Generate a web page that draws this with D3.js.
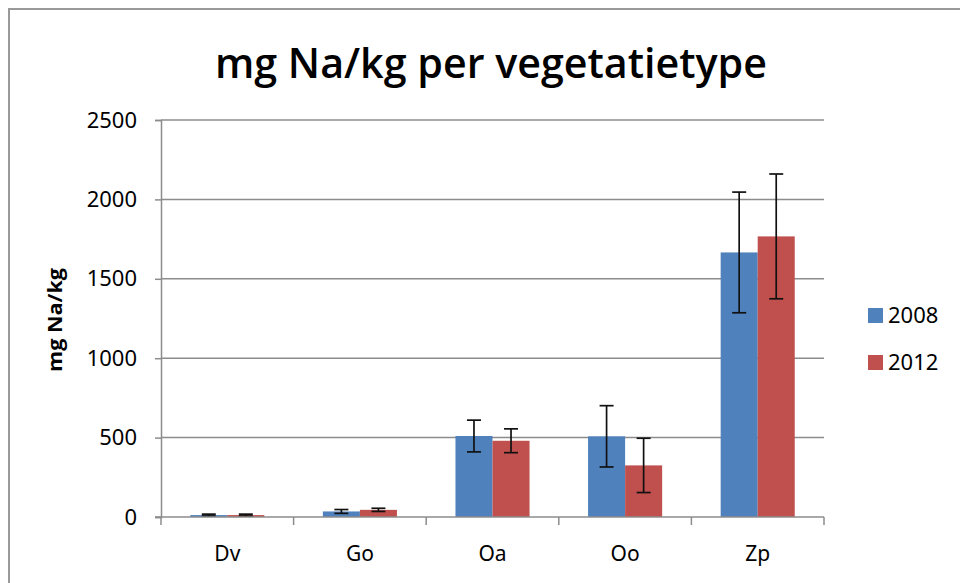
<!DOCTYPE html>
<html lang="nl">
<head>
<meta charset="UTF-8">
<title>mg Na/kg per vegetatietype</title>
<script src="https://cdnjs.cloudflare.com/ajax/libs/d3/7.8.5/d3.min.js"></script>
<style>
    body { margin: 0; background: #fff; }
    .tick text, .cat-label, .legend-label { font-family: "Noto Sans", sans-serif; fill: #000; }
    .grid line { stroke: #8c8c8c; stroke-width: 1.5; }
    .err { stroke: #111; stroke-width: 1.7; }
</style>
</head>
<body>
<div id="chart"></div>
<script>
    // data
    const categories = ["Dv", "Go", "Oa", "Oo", "Zp"];
    const series = ["2008", "2012"];
    const values2008 = [12, 35, 510, 508, 1666];
    const values2012 = [12, 45, 480, 325, 1767];
    const errors2008 = [6, 12, 100, 193, 380];
    const errors2012 = [6, 10, 75, 171, 393];
    const yTicks = [0, 500, 1000, 1500, 2000, 2500];
    const colors = ["#4f81bd", "#c0504d"];

    const W = 960, H = 583;
    const plot = {left: 161, right: 824, top: 120, bottom: 517};

    const svg = d3.select("#chart").append("svg")
        .attr("width", W)
        .attr("height", H);

    // chart border (top and left edges visible)
    svg.append("path")
        .attr("d", `M9,${H} V9 H${W}`)
        .attr("fill", "none")
        .attr("stroke", "#9a9a9a")
        .attr("stroke-width", 2);

    const x0 = d3.scaleBand()
        .domain(categories)
        .range([plot.left, plot.right])
        .padding(0);

    const x1 = d3.scaleBand()
        .domain(series)
        .range([0, x0.bandwidth()])
        .paddingInner(0)
        .paddingOuter(0.79);

    const y = d3.scaleLinear()
        .domain([0, 2500])
        .range([plot.bottom, plot.top]);

    // gridlines
    svg.append("g")
        .attr("class", "grid")
        .selectAll("line")
        .data(yTicks.filter(d => d > 0))
        .join("line")
        .attr("x1", plot.left)
        .attr("x2", plot.right)
        .attr("y1", d => y(d))
        .attr("y2", d => y(d));

    // y axis
    const yAxis = svg.append("g")
        .attr("transform", `translate(${plot.left},0)`)
        .call(d3.axisLeft(y).tickValues(yTicks).tickFormat(d3.format("d")).tickSize(6).tickPadding(18));
    yAxis.select(".domain").attr("stroke", "#8c8c8c").attr("stroke-width", 1.5);
    yAxis.selectAll(".tick line").attr("stroke", "#8c8c8c").attr("stroke-width", 1.5);
    yAxis.selectAll(".tick text").attr("font-size", 22).attr("fill", "#000");

    // bars
    const rows = categories.map((c, i) => ({
        cat: c,
        items: [
            {s: series[0], v: values2008[i], e: errors2008[i]},
            {s: series[1], v: values2012[i], e: errors2012[i]}
        ]
    }));

    const groups = svg.selectAll(".cat")
        .data(rows)
        .join("g")
        .attr("class", "cat")
        .attr("transform", d => `translate(${x0(d.cat)},0)`);

    groups.selectAll("rect")
        .data(d => d.items)
        .join("rect")
        .attr("x", d => x1(d.s))
        .attr("width", x1.bandwidth())
        .attr("y", d => y(d.v))
        .attr("height", d => y(0) - y(d.v))
        .attr("fill", (d, i) => colors[i]);

    // x axis line and boundary ticks
    svg.append("line")
        .attr("x1", plot.left - 6).attr("x2", plot.right)
        .attr("y1", y(0)).attr("y2", y(0))
        .attr("stroke", "#8c8c8c").attr("stroke-width", 1.5);

    const bounds = categories.map(c => x0(c)).concat([x0.range()[1]]);
    svg.selectAll(".xtick")
        .data(bounds)
        .join("line")
        .attr("class", "xtick")
        .attr("x1", d => d).attr("x2", d => d)
        .attr("y1", y(0)).attr("y2", y(0) + 8)
        .attr("stroke", "#8c8c8c").attr("stroke-width", 1.5);

    // error bars
    const cap = 7;
    groups.each(function(d) {
        const g = d3.select(this);
        d.items.forEach(it => {
            const cx = x1(it.s) + x1.bandwidth() / 2;
            g.append("line").attr("class", "err")
                .attr("x1", cx).attr("x2", cx)
                .attr("y1", y(it.v + it.e)).attr("y2", y(Math.max(0, it.v - it.e)));
            [it.v + it.e, Math.max(0, it.v - it.e)].forEach(val => {
                g.append("line").attr("class", "err")
                    .attr("x1", cx - cap).attr("x2", cx + cap)
                    .attr("y1", y(val)).attr("y2", y(val));
            });
        });
    });

    // category labels
    svg.selectAll(".cat-label")
        .data(categories)
        .join("text")
        .attr("class", "cat-label")
        .attr("x", d => x0(d) + x0.bandwidth() / 2)
        .attr("y", 561)
        .attr("text-anchor", "middle")
        .attr("font-size", 21)
        .text(d => d);

    // title
    svg.append("text")
        .attr("x", 491)
        .attr("y", 78)
        .attr("text-anchor", "middle")
        .attr("font-family", "'Open Sans', sans-serif")
        .attr("font-weight", 600)
        .attr("font-size", 42)
        .attr("textLength", 552)
        .attr("lengthAdjust", "spacingAndGlyphs")
        .text("mg Na/kg per vegetatietype");

    // y axis title
    svg.append("text")
        .attr("transform", "translate(62,320) rotate(-90)")
        .attr("text-anchor", "middle")
        .attr("font-family", "'Open Sans', sans-serif")
        .attr("font-weight", 700)
        .attr("font-size", 19)
        .attr("textLength", 104)
        .attr("lengthAdjust", "spacingAndGlyphs")
        .text("mg Na/kg");

    // legend
    const legend = svg.selectAll(".legend")
        .data(series)
        .join("g")
        .attr("class", "legend")
        .attr("transform", (d, i) => `translate(868,${308 + i * 47})`);

    legend.append("rect")
        .attr("width", 15)
        .attr("height", 15)
        .attr("fill", (d, i) => colors[i]);

    legend.append("text")
        .attr("class", "legend-label")
        .attr("x", 20)
        .attr("y", 15)
        .attr("font-size", 22)
        .text(d => d);
</script>
</body>
</html>
